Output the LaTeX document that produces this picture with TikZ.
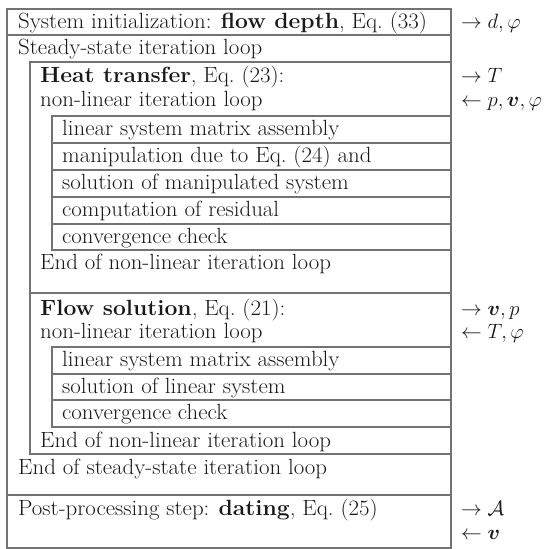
\documentclass[tikz,border=0pt]{standalone}
\usepackage{amsmath,bm}
\newcommand{\wide}[1]{\scalebox{1.04}[1]{#1}}
\begin{document}
\begin{tikzpicture}[x=1pt,y=-1pt,
  frame/.style={draw=black!55, line width=1.1pt},
  txt/.style={anchor=base west, inner sep=0pt, font=\fontsize{22}{26}\selectfont, text=black!90},
  side/.style={anchor=base west, inner sep=0pt, font=\fontsize{22}{26}\selectfont, text=black!90},
]
\useasboundingbox (0,0) rectangle (548,549);
% outer frame
\draw[frame] (7,9) rectangle (451,548);
\draw[frame] (7,35) -- (451,35);
\draw[frame] (7,495) -- (451,495);
% heat transfer box
\draw[frame] (30,62) rectangle (451,293);
\draw[frame] (52,116) rectangle (451,250);
\foreach \yy in {143,170,197,224} \draw[frame] (52,\yy) -- (451,\yy);
% flow solution box
\draw[frame] (30,293) rectangle (451,454);
\draw[frame] (52,347) rectangle (451,427);
\foreach \yy in {374,400} \draw[frame] (52,\yy) -- (451,\yy);

% texts
\node[txt] (init) at (18,28) {\wide{System initialization: \textbf{flow depth}, Eq.~(33)}};
\node[txt] (steady) at (18,54) {\wide{Steady-state iteration loop}};
\node[txt] (heat) at (40,82) {\wide{\textbf{Heat transfer}, Eq.~(23):}};
\node[txt] (hnl) at (40,106) {\wide{non-linear iteration loop}};
\node[txt] (h1) at (62,135) {\wide{linear system matrix assembly}};
\node[txt] (h2) at (62,162) {\wide{manipulation due to Eq.~(24) and}};
\node[txt] (h3) at (62,189) {\wide{solution of manipulated system}};
\node[txt] (h4) at (62,216) {\wide{computation of residual}};
\node[txt] (h5) at (62,243) {\wide{convergence check}};
\node[txt] (hend) at (40,269) {\wide{End of non-linear iteration loop}};
\node[txt] (flow) at (40,315) {\wide{\textbf{Flow solution}, Eq.~(21):}};
\node[txt] (fnl) at (40,338) {\wide{non-linear iteration loop}};
\node[txt] (f1) at (62,366) {\wide{linear system matrix assembly}};
\node[txt] (f2) at (62,393) {\wide{solution of linear system}};
\node[txt] (f3) at (62,419) {\wide{convergence check}};
\node[txt] (fend) at (40,447) {\wide{End of non-linear iteration loop}};
\node[txt] (send) at (18,474) {\wide{End of steady-state iteration loop}};
\node[txt] (post) at (18,515) {\wide{Post-processing step: \textbf{dating}, Eq.~(25)}};

% right column
\node[side] (r1) at (461,28) {$\rightarrow d,\varphi$};
\node[side] (r2) at (461,82) {$\rightarrow T$};
\node[side] (r3) at (461,106) {$\leftarrow p,\bm{v},\varphi$};
\node[side] (r4) at (461,315) {$\rightarrow \bm{v},p$};
\node[side] (r5) at (461,338) {$\leftarrow T,\varphi$};
\node[side] (r6) at (461,515) {$\rightarrow \mathcal{A}$};
\node[side] (r7) at (461,539) {$\leftarrow \bm{v}$};
\end{tikzpicture}
\end{document}
